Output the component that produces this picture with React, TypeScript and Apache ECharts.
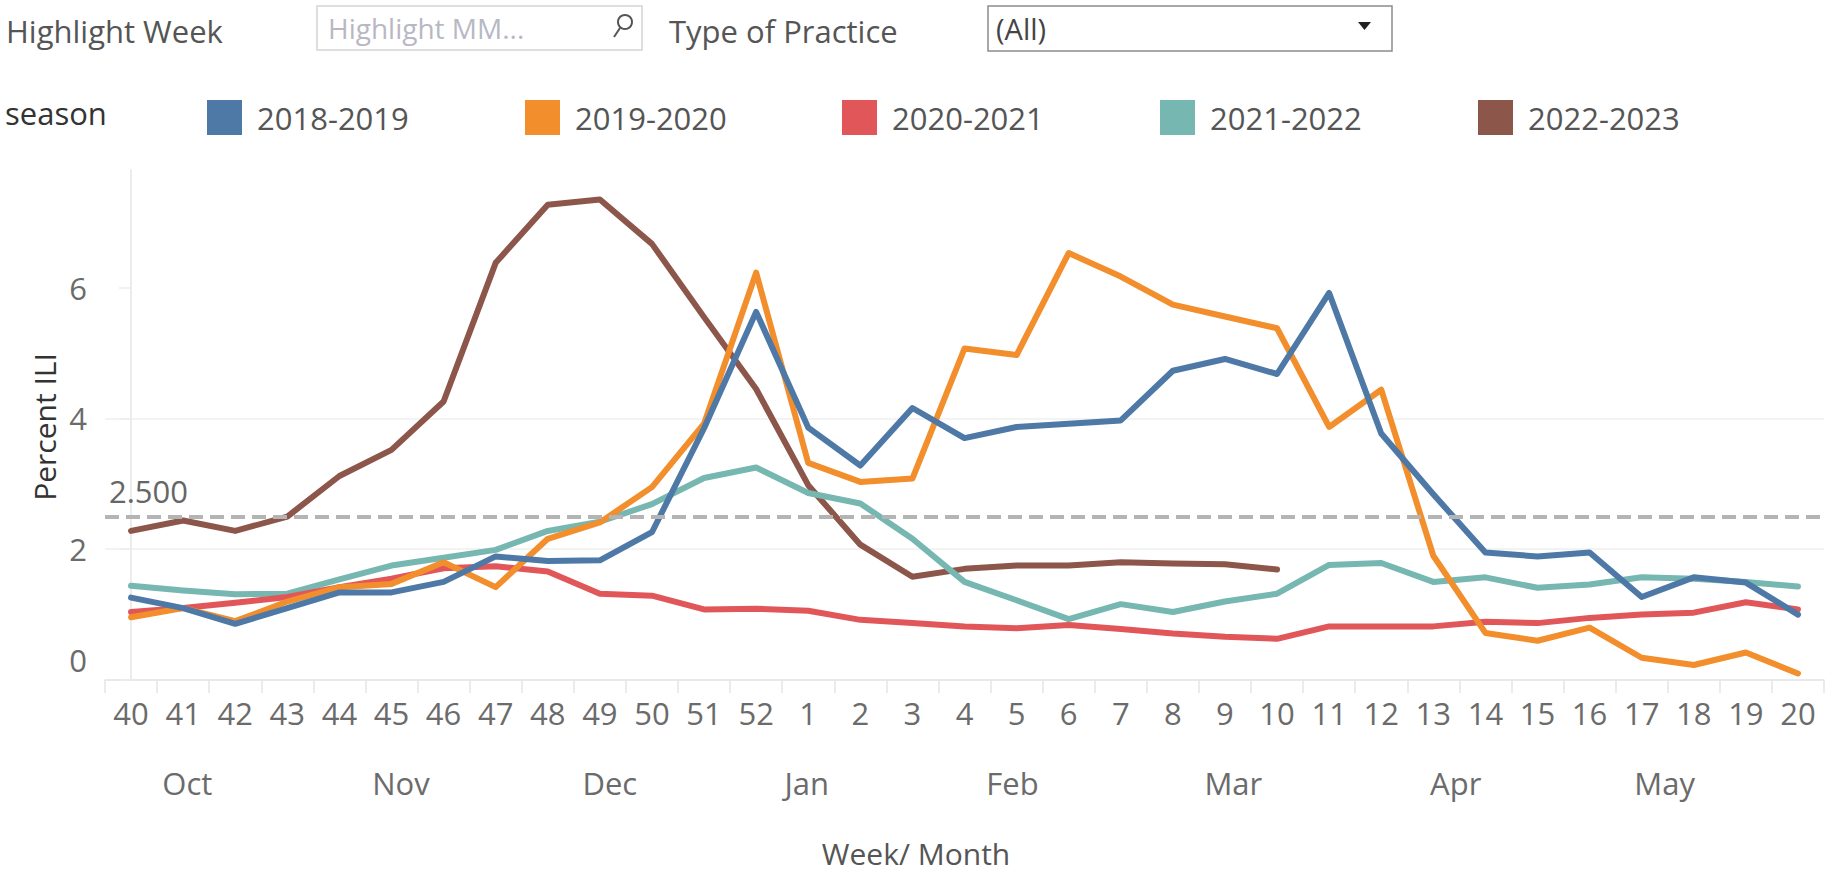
import React, { useEffect, useRef } from "react";
import * as echarts from "echarts";

const weeks = [
  "40", "41", "42", "43", "44", "45", "46", "47", "48", "49", "50", "51", "52",
  "1", "2", "3", "4", "5", "6", "7", "8", "9", "10", "11", "12", "13", "14", "15", "16", "17", "18", "19", "20",
];

const seasons = ["2018-2019", "2019-2020", "2020-2021", "2021-2022", "2022-2023"];
const seasonColors = ["#4E79A7", "#F28E2B", "#E15759", "#76B7B2", "#8C564B"];

const s2018_2019 = [1.26, 1.1, 0.86, 1.1, 1.34, 1.34, 1.5, 1.89, 1.82, 1.83, 2.26, 3.85, 5.63, 3.86, 3.28, 4.16, 3.7, 3.87, 3.92, 3.97, 4.73, 4.91, 4.68, 5.92, 3.77, 2.84, 1.95, 1.89, 1.95, 1.27, 1.57, 1.49, 1.0];
const s2019_2020 = [0.96, 1.1, 0.9, 1.2, 1.42, 1.47, 1.8, 1.42, 2.16, 2.41, 2.95, 3.92, 6.23, 3.32, 3.03, 3.08, 5.07, 4.97, 6.53, 6.17, 5.74, 5.56, 5.38, 3.87, 4.44, 1.9, 0.72, 0.6, 0.8, 0.34, 0.23, 0.42, 0.1];
const s2020_2021 = [1.04, 1.1, 1.18, 1.27, 1.42, 1.55, 1.71, 1.74, 1.66, 1.32, 1.29, 1.08, 1.09, 1.06, 0.92, 0.87, 0.82, 0.79, 0.84, 0.78, 0.71, 0.66, 0.63, 0.82, 0.82, 0.82, 0.89, 0.87, 0.95, 1.0, 1.03, 1.19, 1.08];
const s2021_2022 = [1.44, 1.37, 1.31, 1.32, 1.54, 1.75, 1.87, 1.99, 2.28, 2.42, 2.69, 3.09, 3.25, 2.86, 2.7, 2.16, 1.5, 1.22, 0.93, 1.16, 1.04, 1.2, 1.32, 1.76, 1.79, 1.5, 1.57, 1.41, 1.46, 1.57, 1.55, 1.5, 1.43];
const s2022_2023 = [2.28, 2.44, 2.28, 2.5, 3.12, 3.52, 4.26, 6.38, 7.27, 7.35, 6.67, 5.55, 4.45, 2.98, 2.07, 1.58, 1.7, 1.75, 1.75, 1.8, 1.78, 1.77, 1.69, null, null, null, null, null, null, null, null, null, null];

const seriesValues = [s2018_2019, s2019_2020, s2020_2021, s2021_2022, s2022_2023];

const months = ["Oct", "Nov", "Dec", "Jan", "Feb", "Mar", "Apr", "May"];
// month header label positions, in week-index units along the x axis
const monthTickPos = [1.08, 5.18, 9.19, 12.97, 16.92, 21.16, 25.43, 29.44];

const threshold = 2.5;
const thresholdLabel = "2.500";
const yTickValues = [0, 2, 4, 6];

const FONT = "'Open Sans', 'Noto Sans', sans-serif";
const legendLefts = [202, 520, 837, 1155, 1473];

export default function App() {
  const ref = useRef<HTMLDivElement>(null);

  useEffect(() => {
    if (!ref.current) return;
    const chart = echarts.init(ref.current, null, { renderer: "svg" });

    const order = [4, 3, 2, 1, 0];
    const series: any[] = order.map((k, idx) => {
      const s: any = {
        name: seasons[k],
        type: "line",
        xAxisIndex: 0,
        yAxisIndex: 0,
        data: seriesValues[k],
        showSymbol: false,
        symbol: "none",
        connectNulls: false,
        color: seasonColors[k],
        lineStyle: { width: 6, color: seasonColors[k], join: "round", cap: "round" },
        z: 2 + idx,
      };
      if (idx === order.length - 1) {
        s.markLine = {
          silent: true,
          symbol: "none",
          z: 20,
          data: [{ yAxis: threshold }],
          lineStyle: { type: [14, 7], color: "#b4b4b4", width: 4 },
          label: {
            show: true,
            position: "insideStartTop",
            formatter: thresholdLabel,
            fontSize: 31,
            fontFamily: FONT,
            color: "#666666",
            distance: [4, 10],
          },
        };
      }
      return s;
    });

    const legends = seasons.map((name, k) => ({
      data: [name],
      left: legendLefts[k],
      top: 95,
      orient: "horizontal",
      icon: "rect",
      itemWidth: 35,
      itemHeight: 35,
      selectedMode: false,
      itemStyle: { borderWidth: 0 },
      textStyle: {
        fontSize: 31,
        fontFamily: FONT,
        color: "#555555",
        padding: [0, 0, 0, 10],
      },
    }));

    chart.setOption({
      animation: false,
      backgroundColor: "#ffffff",
      legend: legends,
      grid: { left: 105, right: 9, top: 170, bottom: 195, containLabel: false },
      xAxis: [
        {
          type: "category",
          data: weeks,
          boundaryGap: true,
          position: "bottom",
          axisLine: { show: true, lineStyle: { color: "#e6e6e6", width: 1.5 } },
          axisTick: { show: true, length: 13, lineStyle: { color: "#e4e4e4", width: 1.5 } },
          axisLabel: { interval: 0, margin: 17, fontSize: 31, fontFamily: FONT, color: "#6b6b6b" },
          splitLine: { show: false },
        },
        {
          type: "value",
          min: -0.5,
          max: 32.5,
          position: "bottom",
          axisLine: { show: false },
          axisTick: { show: false },
          splitLine: { show: false },
          axisLabel: {
            customValues: monthTickPos,
            margin: 87,
            fontSize: 31,
            fontFamily: FONT,
            color: "#6b6b6b",
            showMinLabel: true,
            showMaxLabel: true,
            formatter: (v: number) => {
              const i = monthTickPos.findIndex((p) => Math.abs(p - v) < 1e-6);
              return i >= 0 ? months[i] : "";
            },
          },
        },
      ],
      yAxis: {
        type: "value",
        min: 0,
        max: 7.8,
        interval: 2,
        axisLine: { show: true, lineStyle: { color: "#e6e6e6", width: 1.5 } },
        axisTick: { show: true, length: 12, customValues: yTickValues, lineStyle: { color: "#ececec", width: 1.5 } },
        splitLine: { show: true, showMaxLine: false, lineStyle: { color: "#efefef", width: 1.5 } },
        axisLabel: {
          showMaxLabel: false,
          margin: 18,
          fontSize: 31,
          fontFamily: FONT,
          color: "#6b6b6b",
          formatter: (v: number) => (v === 0 ? "{z|0}" : String(v)),
          rich: {
            z: { padding: [0, 0, 40, 0], fontSize: 31, fontFamily: FONT, color: "#6b6b6b" },
          },
        },
      },
      graphic: [
        {
          type: "text",
          left: 6,
          top: 15,
          style: { text: "Highlight Week", fontSize: 31, fontFamily: FONT, fill: "#555555" },
        },
        {
          type: "rect",
          shape: { x: 317, y: 6, width: 325, height: 44 },
          style: { fill: "#ffffff", stroke: "#d4d4d4", lineWidth: 1.5 },
        },
        {
          type: "text",
          x: 328,
          y: 28,
          style: { text: "Highlight MM...", fontSize: 28, fontFamily: FONT, fill: "#b8b8c4", verticalAlign: "middle" },
        },
        {
          type: "circle",
          shape: { cx: 625, cy: 22, r: 7 },
          style: { fill: "none", stroke: "#555555", lineWidth: 2 },
        },
        {
          type: "line",
          shape: { x1: 620, y1: 28, x2: 614, y2: 37 },
          style: { stroke: "#555555", lineWidth: 2 },
        },
        {
          type: "text",
          left: 669,
          top: 15,
          style: { text: "Type of Practice", fontSize: 31, fontFamily: FONT, fill: "#555555" },
        },
        {
          type: "rect",
          shape: { x: 988, y: 6, width: 404, height: 45 },
          style: { fill: "#ffffff", stroke: "#8c8c8c", lineWidth: 1.5 },
        },
        {
          type: "text",
          x: 996,
          y: 28,
          style: { text: "(All)", fontSize: 29, fontFamily: FONT, fill: "#444444", verticalAlign: "middle" },
        },
        {
          type: "polygon",
          shape: { points: [[1358, 22], [1371, 22], [1364.5, 30]] },
          style: { fill: "#222222" },
        },
        {
          type: "text",
          x: 5,
          y: 113,
          style: { text: "season", fontSize: 31, fontFamily: FONT, fill: "#333333", verticalAlign: "middle" },
        },
        {
          type: "text",
          x: 44,
          y: 427,
          rotation: Math.PI / 2,
          style: {
            text: "Percent ILI",
            fontSize: 30,
            fontFamily: FONT,
            fill: "#333333",
            align: "center",
            verticalAlign: "middle",
          },
        },
        {
          type: "text",
          x: 916,
          y: 853,
          style: {
            text: "Week/ Month",
            fontSize: 30,
            fontFamily: FONT,
            fill: "#555555",
            align: "center",
            verticalAlign: "middle",
          },
        },
      ],
      series,
    });

    return () => {
      chart.dispose();
    };
  }, []);

  return (
    <div
      ref={ref}
      style={{ position: "absolute", left: 0, top: 0, width: 1833, height: 875, background: "#ffffff" }}
    />
  );
}
